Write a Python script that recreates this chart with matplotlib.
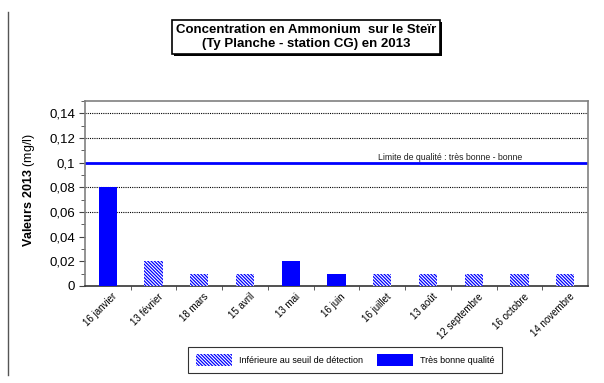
import matplotlib
matplotlib.use("Agg")
import matplotlib.pyplot as plt
from matplotlib.patches import Patch
from matplotlib.lines import Line2D
from matplotlib.ticker import FuncFormatter, MultipleLocator
import matplotlib.patheffects as pe
import matplotlib.transforms as mtransforms

plt.rcParams['font.family'] = ['Liberation Sans', 'DejaVu Sans']
plt.rcParams['mathtext.fontset'] = 'custom'
plt.rcParams['mathtext.rm'] = 'Liberation Sans'
plt.rcParams['mathtext.bf'] = 'Liberation Sans:bold'
plt.rcParams['hatch.linewidth'] = 0.9

dates = ["16 janvier", "13 février", "18 mars", "15 avril", "13 mai", "16 juin",
         "16 juillet", "13 août", "12 septembre", "16 octobre", "14 novembre"]
valeurs = [0.08, 0.02, 0.01, 0.01, 0.02, 0.01, 0.01, 0.01, 0.01, 0.01, 0.01]
# True = below detection threshold (hatched), False = very good quality
sous_seuil = [False, True, True, True, False, False, True, True, True, True, True]
limite = 0.1
grille = [0.06, 0.08, 0.12, 0.14]

hachure = '\\' * 10

fig = plt.figure(figsize=(6.04, 3.83), dpi=100)
ax = fig.add_axes([85/604, 1-286/383, 503/604, 185/383])

x = list(range(len(dates)))
for i in x:
    if sous_seuil[i]:
        ax.bar(i, valeurs[i], width=0.4, color='white', edgecolor='blue',
               hatch=hachure, linewidth=0, zorder=3)
    else:
        ax.bar(i, valeurs[i], width=0.4, color='blue', linewidth=0, zorder=3)

for g in grille:
    ax.axhline(g, color='black', linestyle=(0, (1, 1)), linewidth=0.8, zorder=1)
ax.axhline(limite, color='blue', linewidth=2, zorder=2)
ax.text(5.9, 0.1045, "Limite de qualité : très bonne - bonne", fontsize=6.3,
        color='#222222', va='center')

ax.set_xlim(-0.5, len(dates)-0.5)
ax.set_ylim(0, 0.15)
ax.set_yticks([0, 0.02, 0.04, 0.06, 0.08, 0.1, 0.12, 0.14])
ax.yaxis.set_minor_locator(MultipleLocator(0.01))
ax.yaxis.set_major_formatter(FuncFormatter(
    lambda v, p: "0" if v == 0 else ("%g" % round(v, 2)).replace(".", ",")))
ax.tick_params(axis='y', labelsize=9.5, length=4, color='#444444', pad=3)
ax.tick_params(axis='y', which='minor', length=3, color='#444444')

ax.set_xticks([i + 0.5 for i in x[:-1]], minor=True)
ax.tick_params(axis='x', which='minor', length=3, color='#444444', direction='out')
ax.set_xticks(x)
ax.set_xticklabels(dates, rotation=45, ha='right', va='top',
                   rotation_mode='anchor', fontsize=7)
ax.tick_params(axis='x', which='major', length=0, pad=4)
off = mtransforms.ScaledTranslation(4/100, 0, fig.dpi_scale_trans)
for lab in ax.get_xticklabels():
    lab.set_transform(lab.get_transform() + off)

for s in ax.spines.values():
    s.set_color('#808080')
    s.set_linewidth(1.2)
ax.spines['bottom'].set_color('#333333')

fig.text(29/604, 1-190/383, r"$\mathbf{Valeurs\ 2013}$ (mg/l)", rotation=90,
         fontsize=9, ha='center', va='center')

titre = fig.text(306/604, 1-37/383,
         "Concentration en Ammonium  sur le Steïr\n(Ty Planche - station CG) en 2013",
         fontsize=9.5, fontweight='bold', ha='center', va='center',
         linespacing=1.2,
         bbox=dict(boxstyle='square,pad=0.3', facecolor='white',
                   edgecolor='black', linewidth=1.2))
titre.get_bbox_patch().set_path_effects(
    [pe.SimplePatchShadow(offset=(1.5, -1.5), shadow_rgbFace='black', alpha=1),
     pe.Normal()])

handles = [Patch(facecolor='white', edgecolor='blue', hatch=hachure, linewidth=0),
           Patch(facecolor='blue', linewidth=0)]
leg = fig.legend(handles, ["Inférieure au seuil de détection", "Très bonne qualité"],
                 loc='center', bbox_to_anchor=(345/604, 1-360/383), ncol=2,
                 fontsize=6.5, handlelength=4, handleheight=1.7, columnspacing=1.5,
                 fancybox=False, edgecolor='black', borderpad=0.8,
                 handletextpad=0.8)
leg.get_frame().set_linewidth(0.8)

fig.add_artist(Line2D([8/604, 8/604], [1-375/383, 1-12/383], color='#555555',
                      linewidth=1, transform=fig.transFigure))

fig.savefig("out.png", dpi=100)
